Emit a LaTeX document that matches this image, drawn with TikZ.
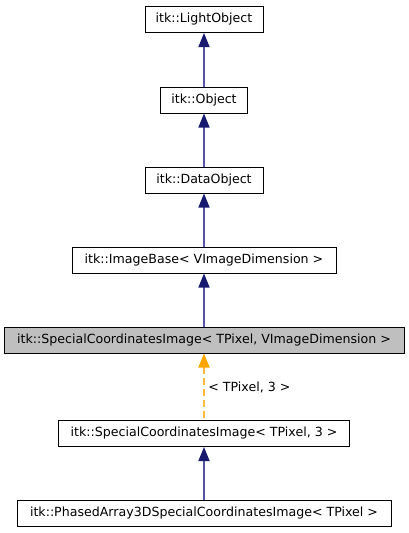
\documentclass[tikz,border=0pt]{standalone}
\usepackage{fontspec}
\setmainfont{DejaVu Sans}
\usetikzlibrary{arrows.meta}
\definecolor{edgeblue}{RGB}{25,25,112}
\definecolor{edgeline}{RGB}{85,85,165}
\definecolor{hl}{RGB}{191,191,191}
\definecolor{tmpl}{RGB}{255,165,0}
\definecolor{tmplline}{RGB}{255,185,60}
\tikzset{
  lbltext/.style={font=\fontsize{12.6}{14}\selectfont},
  cls/.style={draw=black, line width=1pt, fill=white, inner sep=0pt, minimum height=26pt,
              lbltext, anchor=center},
  inh/.style={draw=edgeline, line width=1.6pt,
              {Triangle[length=14pt,width=11pt,fill=edgeblue,color=edgeblue]}-},
  tpl/.style={draw=tmplline, line width=1.8pt, dash pattern=on 7pt off 4pt,
              {Triangle[length=14pt,width=11pt,fill=tmpl,color=tmpl]}-},
}
\begin{document}
\begin{tikzpicture}[x=1pt,y=-1pt]
\useasboundingbox (0,0) rectangle (408,533);
\node[cls, minimum width=118pt] (light) at (204,19.5) {itk::LightObject};
\node[cls, minimum width=87pt] (obj) at (204,100) {itk::Object};
\node[cls, minimum width=118pt] (data) at (204,180) {itk::DataObject};
\node[cls, minimum width=264pt] (ib) at (204,260) {itk::ImageBase< VImageDimension >};
\node[cls, fill=hl, minimum width=400pt] (sci) at (204,340) {itk::SpecialCoordinatesImage< TPixel, VImageDimension >};
\node[cls, minimum width=291pt] (sci3) at (204,433.5) {itk::SpecialCoordinatesImage< TPixel, 3 >};
\node[cls, minimum width=374pt] (pa) at (204,513.5) {itk::PhasedArray3DSpecialCoordinatesImage< TPixel >};
\draw[inh] (light.south) -- (obj.north);
\draw[inh] (obj.south) -- (data.north);
\draw[inh] (data.south) -- (ib.north);
\draw[inh] (ib.south) -- (sci.north);
\draw[tpl] (sci.south) -- node[right, lbltext, inner sep=3.5pt, yshift=-0.5pt] (lbl) {< TPixel, 3 >} (sci3.north);
\draw[inh] (sci3.south) -- (pa.north);
\end{tikzpicture}
\end{document}
